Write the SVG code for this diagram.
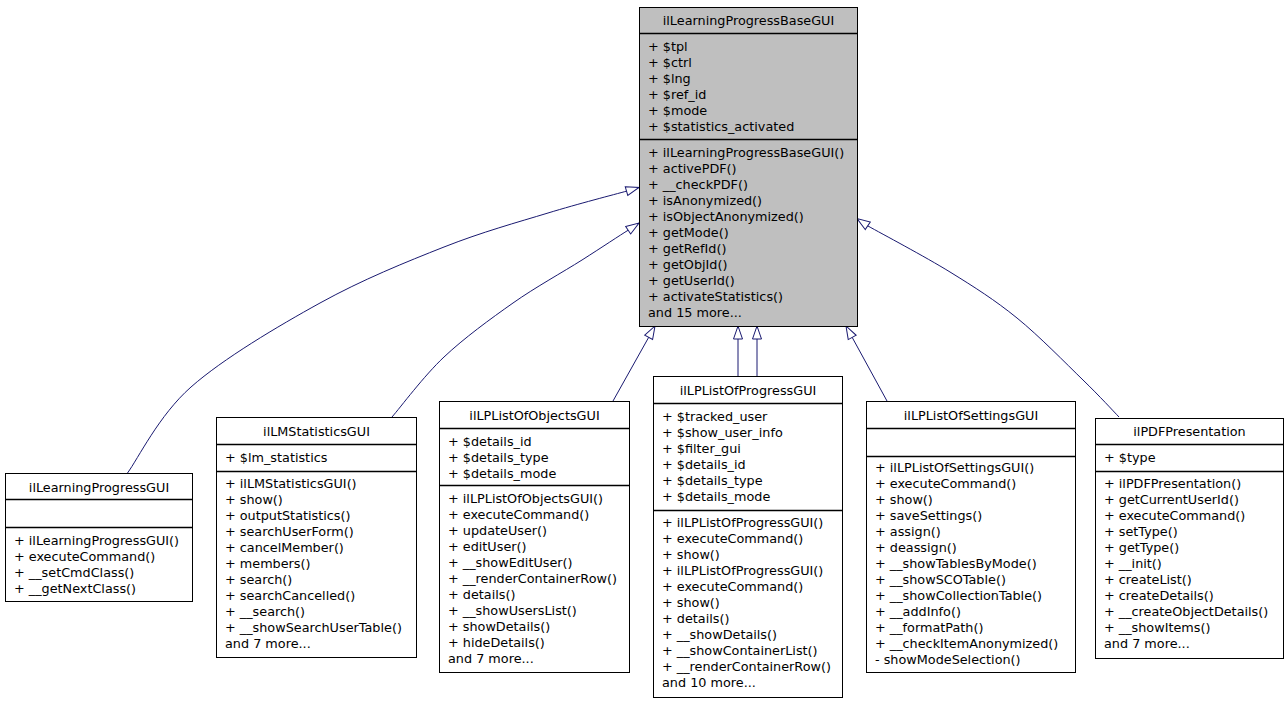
<svg xmlns="http://www.w3.org/2000/svg" width="1288" height="704" viewBox="0 0 1288 704">
<defs>
<style>
.box{fill:#ffffff;stroke:#000000;stroke-width:1}
.base{fill:#bfbfbf;stroke:#000000;stroke-width:1}
.sep{stroke:#000000;stroke-width:1.3}
text{font-family:"DejaVu Sans","Noto Sans",sans-serif;font-size:12.8px;fill:#000000}
.t{text-anchor:middle}
.edge{fill:none;stroke:#191970;stroke-width:1;marker-end:url(#inh)}
</style>
<marker id="inh" markerUnits="userSpaceOnUse" markerWidth="16" markerHeight="12" refX="14" refY="6" orient="auto" overflow="visible">
<path d="M1,1.5 L14,6 L1,10.5 Z" fill="#ffffff" stroke="#191970" stroke-width="1"/>
</marker>
</defs>
<rect width="1288" height="704" fill="#ffffff"/>

<g id="connectors">
<path class="edge" d="M127.5,473 C138.1,458.7 158.9,415.3 191,387 C223.1,358.7 277.8,326.3 320,303 C362.2,279.7 406,262 444,247 C482,232 517.5,222.3 548,213 C578.5,203.7 613.8,194.7 627,191 L639,187.5"/>
<path class="edge" d="M392,417 C400.7,407 423.8,376 444,357 C464.2,338 490,319.2 513,303 C536,286.8 562.8,272.2 582,260 C601.2,247.8 620.3,235 628.5,230 L639,223"/>
<path class="edge" d="M613,401 L648.7,337.3 L655,326"/>
<path class="edge" d="M738,376 L738,338 L738,326"/>
<path class="edge" d="M757,376 L757,338 L757,326"/>
<path class="edge" d="M887,401 L852.2,337.4 L846,326"/>
<path class="edge" d="M1119,417 C1113,410.8 1100,396.5 1083,380 C1066,363.5 1039.2,336 1017,318 C994.8,300 974.8,287.3 950,272 C925.2,256.7 881.7,233.7 868,226 L857,218.5"/>
</g>

<g id="ilLearningProgressBaseGUI">
<rect class="base" x="639.5" y="7.5" width="218" height="319"/>
<line class="sep" x1="639.5" y1="33.5" x2="857.5" y2="33.5"/>
<line class="sep" x1="639.5" y1="139.5" x2="857.5" y2="139.5"/>
<text class="t" x="748.5" y="25">ilLearningProgressBaseGUI</text>
<text x="648" y="51">+ $tpl</text>
<text x="648" y="67">+ $ctrl</text>
<text x="648" y="83">+ $lng</text>
<text x="648" y="99">+ $ref_id</text>
<text x="648" y="115">+ $mode</text>
<text x="648" y="131">+ $statistics_activated</text>
<text x="648" y="157">+ ilLearningProgressBaseGUI()</text>
<text x="648" y="173">+ activePDF()</text>
<text x="648" y="189">+ __checkPDF()</text>
<text x="648" y="205">+ isAnonymized()</text>
<text x="648" y="221">+ isObjectAnonymized()</text>
<text x="648" y="237">+ getMode()</text>
<text x="648" y="253">+ getRefId()</text>
<text x="648" y="269">+ getObjId()</text>
<text x="648" y="285">+ getUserId()</text>
<text x="648" y="301">+ activateStatistics()</text>
<text x="648" y="317">and 15 more...</text>
</g>

<g id="ilLearningProgressGUI">
<rect class="box" x="5.5" y="473.5" width="187" height="128"/>
<line class="sep" x1="5.5" y1="499.5" x2="192.5" y2="499.5"/>
<line class="sep" x1="5.5" y1="527.5" x2="192.5" y2="527.5"/>
<text class="t" x="99" y="492">ilLearningProgressGUI</text>
<text x="14" y="545">+ ilLearningProgressGUI()</text>
<text x="14" y="561">+ executeCommand()</text>
<text x="14" y="577">+ __setCmdClass()</text>
<text x="14" y="593">+ __getNextClass()</text>
</g>

<g id="ilLMStatisticsGUI">
<rect class="box" x="216.5" y="417.5" width="200" height="240"/>
<line class="sep" x1="216.5" y1="444.5" x2="416.5" y2="444.5"/>
<line class="sep" x1="216.5" y1="471.5" x2="416.5" y2="471.5"/>
<text class="t" x="316.5" y="436">ilLMStatisticsGUI</text>
<text x="225" y="462">+ $lm_statistics</text>
<text x="225" y="488">+ ilLMStatisticsGUI()</text>
<text x="225" y="504">+ show()</text>
<text x="225" y="520">+ outputStatistics()</text>
<text x="225" y="536">+ searchUserForm()</text>
<text x="225" y="552">+ cancelMember()</text>
<text x="225" y="568">+ members()</text>
<text x="225" y="584">+ search()</text>
<text x="225" y="600">+ searchCancelled()</text>
<text x="225" y="616">+ __search()</text>
<text x="225" y="632">+ __showSearchUserTable()</text>
<text x="225" y="648">and 7 more...</text>
</g>

<g id="ilLPListOfObjectsGUI">
<rect class="box" x="439.5" y="401.5" width="190" height="271"/>
<line class="sep" x1="439.5" y1="428.5" x2="629.5" y2="428.5"/>
<line class="sep" x1="439.5" y1="485.5" x2="629.5" y2="485.5"/>
<text class="t" x="534.5" y="420">ilLPListOfObjectsGUI</text>
<text x="448" y="446">+ $details_id</text>
<text x="448" y="462">+ $details_type</text>
<text x="448" y="478">+ $details_mode</text>
<text x="448" y="503">+ ilLPListOfObjectsGUI()</text>
<text x="448" y="519">+ executeCommand()</text>
<text x="448" y="535">+ updateUser()</text>
<text x="448" y="551">+ editUser()</text>
<text x="448" y="567">+ __showEditUser()</text>
<text x="448" y="583">+ __renderContainerRow()</text>
<text x="448" y="599">+ details()</text>
<text x="448" y="615">+ __showUsersList()</text>
<text x="448" y="631">+ showDetails()</text>
<text x="448" y="647">+ hideDetails()</text>
<text x="448" y="663">and 7 more...</text>
</g>

<g id="ilLPListOfProgressGUI">
<rect class="box" x="653.5" y="376.5" width="189" height="321"/>
<line class="sep" x1="653.5" y1="403.5" x2="842.5" y2="403.5"/>
<line class="sep" x1="653.5" y1="510.5" x2="842.5" y2="510.5"/>
<text class="t" x="748" y="395">ilLPListOfProgressGUI</text>
<text x="662" y="421">+ $tracked_user</text>
<text x="662" y="437">+ $show_user_info</text>
<text x="662" y="453">+ $filter_gui</text>
<text x="662" y="469">+ $details_id</text>
<text x="662" y="485">+ $details_type</text>
<text x="662" y="501">+ $details_mode</text>
<text x="662" y="527">+ ilLPListOfProgressGUI()</text>
<text x="662" y="543">+ executeCommand()</text>
<text x="662" y="559">+ show()</text>
<text x="662" y="575">+ ilLPListOfProgressGUI()</text>
<text x="662" y="591">+ executeCommand()</text>
<text x="662" y="607">+ show()</text>
<text x="662" y="623">+ details()</text>
<text x="662" y="639">+ __showDetails()</text>
<text x="662" y="655">+ __showContainerList()</text>
<text x="662" y="671">+ __renderContainerRow()</text>
<text x="662" y="687">and 10 more...</text>
</g>

<g id="ilLPListOfSettingsGUI">
<rect class="box" x="866.5" y="401.5" width="209" height="271"/>
<line class="sep" x1="866.5" y1="428.5" x2="1075.5" y2="428.5"/>
<line class="sep" x1="866.5" y1="456.5" x2="1075.5" y2="456.5"/>
<text class="t" x="971" y="420">ilLPListOfSettingsGUI</text>
<text x="875" y="472">+ ilLPListOfSettingsGUI()</text>
<text x="875" y="488">+ executeCommand()</text>
<text x="875" y="504">+ show()</text>
<text x="875" y="520">+ saveSettings()</text>
<text x="875" y="536">+ assign()</text>
<text x="875" y="552">+ deassign()</text>
<text x="875" y="568">+ __showTablesByMode()</text>
<text x="875" y="584">+ __showSCOTable()</text>
<text x="875" y="600">+ __showCollectionTable()</text>
<text x="875" y="616">+ __addInfo()</text>
<text x="875" y="632">+ __formatPath()</text>
<text x="875" y="648">+ __checkItemAnonymized()</text>
<text x="875" y="664">- showModeSelection()</text>
</g>

<g id="ilPDFPresentation">
<rect class="box" x="1095.5" y="418.5" width="188" height="240"/>
<line class="sep" x1="1095.5" y1="444.5" x2="1283.5" y2="444.5"/>
<line class="sep" x1="1095.5" y1="471.5" x2="1283.5" y2="471.5"/>
<text class="t" x="1189.5" y="436">ilPDFPresentation</text>
<text x="1104" y="462">+ $type</text>
<text x="1104" y="488">+ ilPDFPresentation()</text>
<text x="1104" y="504">+ getCurrentUserId()</text>
<text x="1104" y="520">+ executeCommand()</text>
<text x="1104" y="536">+ setType()</text>
<text x="1104" y="552">+ getType()</text>
<text x="1104" y="568">+ __init()</text>
<text x="1104" y="584">+ createList()</text>
<text x="1104" y="600">+ createDetails()</text>
<text x="1104" y="616">+ __createObjectDetails()</text>
<text x="1104" y="632">+ __showItems()</text>
<text x="1104" y="648">and 7 more...</text>
</g>
</svg>
